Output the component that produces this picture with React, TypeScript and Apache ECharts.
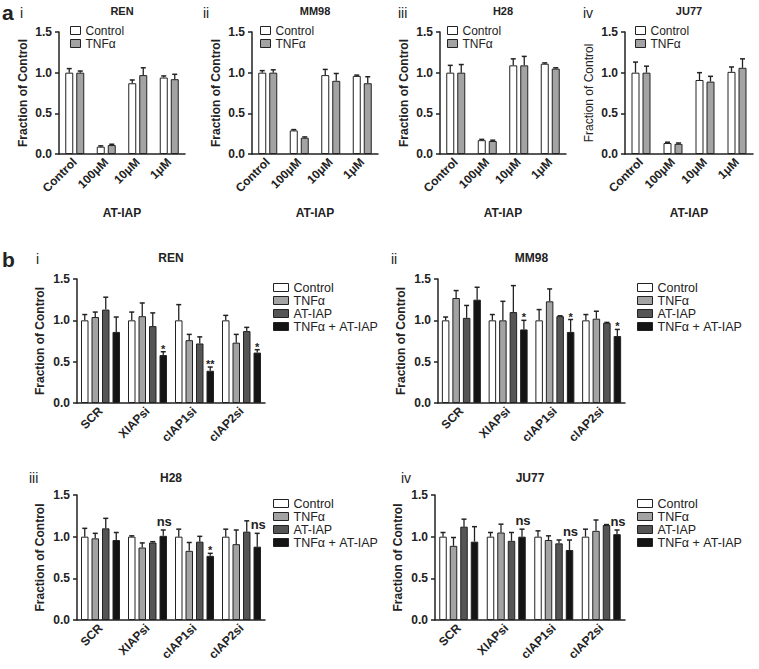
import React, { useEffect, useRef } from "react";
import * as echarts from "echarts";

// ---------- DATA ----------
const aCategories = ["Control", "100μM", "10μM", "1μM"];
const bCategories = ["SCR", "XIAPsi", "cIAP1si", "cIAP2si"];
const yTickValues = [0, 0.5, 1.0, 1.5];

// Panel a (AT-IAP dose), Control vs TNFα
const aRenControl = [1.0, 0.09, 0.87, 0.94];
const aRenControlErr = [0.05, 0.01, 0.04, 0.02];
const aRenTnf = [1.0, 0.11, 0.97, 0.92];
const aRenTnfErr = [0.02, 0.01, 0.09, 0.06];

const aMm98Control = [1.0, 0.29, 0.97, 0.96];
const aMm98ControlErr = [0.025, 0.01, 0.07, 0.01];
const aMm98Tnf = [1.0, 0.2, 0.9, 0.87];
const aMm98TnfErr = [0.035, 0.01, 0.09, 0.08];

const aH28Control = [1.0, 0.17, 1.09, 1.11];
const aH28ControlErr = [0.09, 0.01, 0.08, 0.01];
const aH28Tnf = [1.0, 0.16, 1.09, 1.05];
const aH28TnfErr = [0.1, 0.01, 0.11, 0.01];

const aJu77Control = [1.0, 0.135, 0.91, 1.01];
const aJu77ControlErr = [0.13, 0.01, 0.09, 0.06];
const aJu77Tnf = [1.0, 0.125, 0.89, 1.06];
const aJu77TnfErr = [0.08, 0.01, 0.065, 0.11];

// Panel b (siRNA), Control / TNFα / AT-IAP / TNFα + AT-IAP
const bRenControl = [1.0, 1.0, 1.0, 1.0];
const bRenControlErr = [0.07, 0.1, 0.19, 0.06];
const bRenTnf = [1.04, 1.05, 0.76, 0.73];
const bRenTnfErr = [0.06, 0.16, 0.07, 0.1];
const bRenAt = [1.13, 0.93, 0.72, 0.87];
const bRenAtErr = [0.15, 0.16, 0.08, 0.045];
const bRenCombo = [0.86, 0.58, 0.39, 0.61];
const bRenComboErr = [0.18, 0.04, 0.045, 0.035];
const bRenSig = ["", "*", "**", "*"];

const bMm98Control = [1.0, 1.0, 1.0, 1.0];
const bMm98ControlErr = [0.04, 0.07, 0.13, 0.07];
const bMm98Tnf = [1.27, 1.0, 1.23, 1.02];
const bMm98TnfErr = [0.09, 0.23, 0.15, 0.09];
const bMm98At = [1.03, 1.1, 1.05, 0.97];
const bMm98AtErr = [0.15, 0.32, 0.005, 0.005];
const bMm98Combo = [1.25, 0.89, 0.86, 0.81];
const bMm98ComboErr = [0.15, 0.11, 0.15, 0.08];
const bMm98Sig = ["", "*", "*", "*"];

const bH28Control = [1.0, 1.0, 1.0, 1.0];
const bH28ControlErr = [0.1, 0.01, 0.09, 0.09];
const bH28Tnf = [0.98, 0.87, 0.83, 0.91];
const bH28TnfErr = [0.06, 0.055, 0.1, 0.17];
const bH28At = [1.1, 0.93, 0.94, 1.06];
const bH28AtErr = [0.12, 0.01, 0.064, 0.13];
const bH28Combo = [0.96, 1.01, 0.77, 0.88];
const bH28ComboErr = [0.09, 0.07, 0.03, 0.16];
const bH28Sig = ["", "ns", "*", "ns"];

const bJu77Control = [1.0, 1.0, 1.0, 1.0];
const bJu77ControlErr = [0.05, 0.05, 0.07, 0.09];
const bJu77Tnf = [0.89, 1.05, 0.96, 1.07];
const bJu77TnfErr = [0.1, 0.1, 0.05, 0.13];
const bJu77At = [1.12, 0.95, 0.92, 1.14];
const bJu77AtErr = [0.09, 0.1, 0.04, 0.005];
const bJu77Combo = [0.94, 1.0, 0.84, 1.03];
const bJu77ComboErr = [0.18, 0.09, 0.12, 0.05];
const bJu77Sig = ["", "ns", "ns", "ns"];

// ---------- STYLE / LAYOUT ----------
const FONT = "Liberation Sans, Arial, Helvetica, sans-serif";
const INK = "#222";
const C_WHITE = "#ffffff";
const C_LIGHT = "#a3a3a3";
const C_DARK = "#555555";
const C_BLACK = "#141414";

type S = { name: string; values: number[]; errors: number[]; color: string; sig?: string[] };
type Panel = {
  grid: { left: number; top: number; width: number; height: number };
  cats: string[];
  series: S[];
  barWidth: number;
  gapPx: number;
  title: string;
  titleY: number;
  xName?: string;
  yNameBold: boolean;
  legend: { left: number; top: number; iw: number; ih: number; fs: number; lh: number };
};

const aSeries = (c: number[], ce: number[], t: number[], te: number[]): S[] => [
  { name: "Control", values: c, errors: ce, color: C_WHITE },
  { name: "TNFα", values: t, errors: te, color: C_LIGHT },
];
const bSeries = (
  c: number[], ce: number[], t: number[], te: number[],
  a: number[], ae: number[], k: number[], ke: number[], sig: string[]
): S[] => [
  { name: "Control", values: c, errors: ce, color: C_WHITE },
  { name: "TNFα", values: t, errors: te, color: C_LIGHT },
  { name: "AT-IAP", values: a, errors: ae, color: C_DARK },
  { name: "TNFα + AT-IAP", values: k, errors: ke, color: C_BLACK, sig },
];

const aGridTop = 32, aGridH = 122;
const aLeg = { iw: 10, ih: 8, fs: 12, lh: 13 };
const bLeg = { iw: 15, ih: 8, fs: 12.5, lh: 12.5 };
const panels: Panel[] = [
  { grid: { left: 59, top: aGridTop, width: 126, height: aGridH }, cats: aCategories,
    series: aSeries(aRenControl, aRenControlErr, aRenTnf, aRenTnfErr), barWidth: 8, gapPx: 3,
    title: "REN", titleY: 11, xName: "AT-IAP", yNameBold: true, legend: { left: 70, top: 24, ...aLeg } },
  { grid: { left: 252, top: aGridTop, width: 126, height: aGridH }, cats: aCategories,
    series: aSeries(aMm98Control, aMm98ControlErr, aMm98Tnf, aMm98TnfErr), barWidth: 8, gapPx: 3,
    title: "MM98", titleY: 11, xName: "AT-IAP", yNameBold: true, legend: { left: 260, top: 24, ...aLeg } },
  { grid: { left: 440, top: aGridTop, width: 126, height: aGridH }, cats: aCategories,
    series: aSeries(aH28Control, aH28ControlErr, aH28Tnf, aH28TnfErr), barWidth: 8, gapPx: 3,
    title: "H28", titleY: 11, xName: "AT-IAP", yNameBold: true, legend: { left: 447, top: 24, ...aLeg } },
  { grid: { left: 625, top: aGridTop, width: 128, height: aGridH }, cats: aCategories,
    series: aSeries(aJu77Control, aJu77ControlErr, aJu77Tnf, aJu77TnfErr), barWidth: 8, gapPx: 3,
    title: "JU77", titleY: 11, xName: "AT-IAP", yNameBold: false, legend: { left: 635, top: 24, ...aLeg } },
  { grid: { left: 77, top: 279, width: 188, height: 124 }, cats: bCategories,
    series: bSeries(bRenControl, bRenControlErr, bRenTnf, bRenTnfErr, bRenAt, bRenAtErr, bRenCombo, bRenComboErr, bRenSig),
    barWidth: 7.5, gapPx: 3, title: "REN", titleY: 258, yNameBold: true, legend: { left: 273, top: 281, ...bLeg } },
  { grid: { left: 438, top: 279, width: 187, height: 124 }, cats: bCategories,
    series: bSeries(bMm98Control, bMm98ControlErr, bMm98Tnf, bMm98TnfErr, bMm98At, bMm98AtErr, bMm98Combo, bMm98ComboErr, bMm98Sig),
    barWidth: 7.5, gapPx: 3, title: "MM98", titleY: 258, yNameBold: true, legend: { left: 637, top: 281, ...bLeg } },
  { grid: { left: 77, top: 495, width: 188, height: 125 }, cats: bCategories,
    series: bSeries(bH28Control, bH28ControlErr, bH28Tnf, bH28TnfErr, bH28At, bH28AtErr, bH28Combo, bH28ComboErr, bH28Sig),
    barWidth: 7.5, gapPx: 3, title: "H28", titleY: 478, yNameBold: true, legend: { left: 273, top: 497, ...bLeg } },
  { grid: { left: 435, top: 495, width: 190, height: 125 }, cats: bCategories,
    series: bSeries(bJu77Control, bJu77ControlErr, bJu77Tnf, bJu77TnfErr, bJu77At, bJu77AtErr, bJu77Combo, bJu77ComboErr, bJu77Sig),
    barWidth: 7.5, gapPx: 3, title: "JU77", titleY: 478, yNameBold: true, legend: { left: 637, top: 497, ...bLeg } },
];

const panelLabels = [
  { text: "a", x: 2, y: 12, big: true },
  { text: "i", x: 20, y: 13, big: false },
  { text: "ii", x: 203, y: 13, big: false },
  { text: "iii", x: 398, y: 13, big: false },
  { text: "iv", x: 583, y: 13, big: false },
  { text: "b", x: 2, y: 259, big: true },
  { text: "i", x: 36, y: 259, big: false },
  { text: "ii", x: 391, y: 259, big: false },
  { text: "iii", x: 29, y: 478, big: false },
  { text: "iv", x: 401, y: 478, big: false },
];

function buildOption() {
  const axisLine = { lineStyle: { color: INK, width: 1.5 } };
  const grid = panels.map((p) => ({ ...p.grid }));
  const xAxis = panels.map((p, i) => ({
    type: "category",
    gridIndex: i,
    data: p.cats,
    axisLine,
    axisTick: { alignWithLabel: true, length: 4, lineStyle: { color: INK, width: 1.5 } },
    axisLabel: { interval: 0, rotate: 45, fontWeight: "bold", fontSize: 12, color: INK, fontFamily: FONT, margin: 6 },
    name: p.xName || "",
    nameLocation: "middle",
    nameGap: 53,
    nameTextStyle: { fontWeight: "bold", fontSize: 12, color: INK, fontFamily: FONT },
  }));
  const yAxis = panels.map((p, i) => ({
    type: "value",
    gridIndex: i,
    min: yTickValues[0],
    max: yTickValues[yTickValues.length - 1],
    interval: yTickValues[1] - yTickValues[0],
    splitLine: { show: false },
    axisLine: { show: true, ...axisLine },
    axisTick: { show: true, length: 4, lineStyle: { color: INK, width: 1.5 } },
    axisLabel: { formatter: (v: number) => v.toFixed(1), fontWeight: "bold", fontSize: 12, color: INK, fontFamily: FONT, margin: 7 },
    name: "Fraction of Control",
    nameLocation: "middle",
    nameGap: i < 4 ? 30 : 31,
    nameTextStyle: { fontWeight: p.yNameBold ? "bold" : "normal", fontSize: 12, color: INK, fontFamily: FONT },
  }));

  const series: any[] = [];
  panels.forEach((p, i) => {
    const n = p.series.length;
    const barGap = `${(p.gapPx / p.barWidth) * 100}%`;
    p.series.forEach((s) => {
      series.push({
        type: "bar",
        name: s.name,
        xAxisIndex: i,
        yAxisIndex: i,
        data: s.values,
        barWidth: p.barWidth,
        barGap,
        itemStyle: { color: s.color, borderColor: INK, borderWidth: 1 },
        z: 2,
      });
    });
    const errItems: { cat: number; k: number; v: number; e: number; sig: string }[] = [];
    p.series.forEach((s, k) => {
      s.values.forEach((v, c) => {
        errItems.push({ cat: c, k, v, e: s.errors[c], sig: s.sig ? s.sig[c] : "" });
      });
    });
    const step = p.barWidth + p.gapPx;
    series.push({
      type: "custom",
      xAxisIndex: i,
      yAxisIndex: i,
      z: 3,
      silent: true,
      data: errItems.map((d) => [d.cat, d.v + d.e]),
      renderItem: (params: any, api: any) => {
        const d = errItems[params.dataIndex];
        const base = api.coord([d.cat, d.v]);
        const top = api.coord([d.cat, d.v + d.e]);
        const x = base[0] + (d.k - (n - 1) / 2) * step;
        const children: any[] = [
          { type: "line", shape: { x1: x, y1: base[1], x2: x, y2: top[1] }, style: { stroke: INK, lineWidth: 1.3 } },
          { type: "line", shape: { x1: x - 2.5, y1: top[1], x2: x + 2.5, y2: top[1] }, style: { stroke: INK, lineWidth: 1.5 } },
        ];
        if (d.sig) {
          const isNs = d.sig === "ns";
          children.push({
            type: "text",
            x: x + (isNs ? 1 : 0),
            y: isNs ? top[1] - 2 : top[1] - 3,
            style: {
              text: d.sig,
              fill: INK,
              font: isNs ? `bold 13px ${FONT}` : `bold 11px ${FONT}`,
              align: "center",
              verticalAlign: isNs ? "bottom" : "middle",
            },
          });
        }
        return { type: "group", children };
      },
    });
  });

  const legend = panels.map((p) => ({
    left: p.legend.left,
    top: p.legend.top,
    orient: "vertical",
    icon: "rect",
    itemWidth: p.legend.iw,
    itemHeight: p.legend.ih,
    itemGap: 0,
    padding: 0,
    selectedMode: false,
    textStyle: { fontSize: p.legend.fs, fontFamily: FONT, color: INK, lineHeight: p.legend.lh },
    data: p.series.map((s) => ({ name: s.name, itemStyle: { color: s.color, borderColor: INK, borderWidth: 1 } })),
  }));

  const graphic: any[] = [];
  panels.forEach((p) => {
    graphic.push({
      type: "text",
      x: p.grid.left + p.grid.width / 2,
      y: p.titleY,
      style: { text: p.title, font: `bold ${p.titleY < 100 ? 11 : 12}px ${FONT}`, fill: INK, align: "center", verticalAlign: "middle" },
    });
  });
  panelLabels.forEach((l) => {
    graphic.push({
      type: "text",
      x: l.x,
      y: l.y,
      style: {
        text: l.text,
        font: l.big ? `bold 21px ${FONT}` : `14px ${FONT}`,
        fill: INK,
        align: "left",
        verticalAlign: "middle",
      },
    });
  });

  return {
    animation: false,
    backgroundColor: "#ffffff",
    textStyle: { fontFamily: FONT },
    grid,
    xAxis,
    yAxis,
    legend,
    series,
    graphic,
  };
}

export default function App() {
  const ref = useRef<HTMLDivElement>(null);
  useEffect(() => {
    document.body.style.margin = "0";
    if (!ref.current) return;
    const chart = echarts.init(ref.current, undefined, { renderer: "svg" });
    chart.setOption(buildOption() as any);
    return () => chart.dispose();
  }, []);
  return <div ref={ref} style={{ width: 759, height: 669, position: "absolute", left: 0, top: 0 }} />;
}
